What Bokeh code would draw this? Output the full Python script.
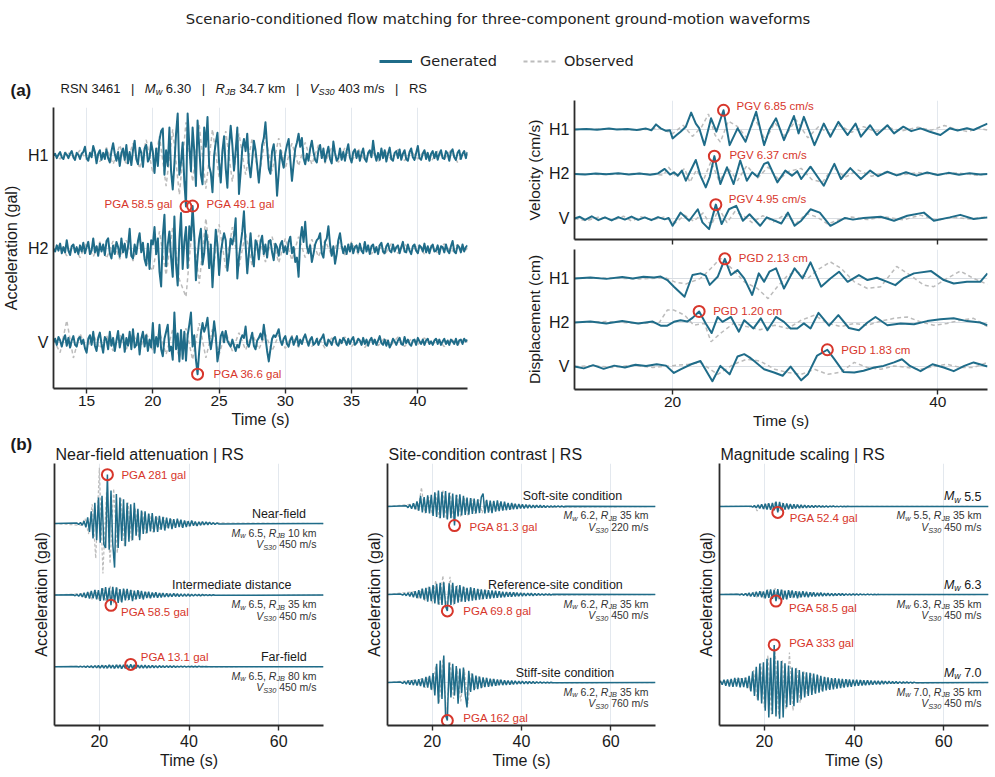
import numpy as np
from bokeh.core.properties import value
from bokeh.embed import file_html
from bokeh.layouts import column, row
from bokeh.models import (ColumnDataSource, CustomLabelingPolicy, FixedTicker, Label, Legend,
                          LegendItem, Range1d)
from bokeh.plotting import figure
from bokeh.resources import INLINE

# ---------------------------------------------------------------- data
# Panel (a): record RSN 3461, acceleration (gal) every 0.125 s from 12.5 s (one row = 1 s)
RECORD = dict(rsn=3461, mw="6.30", rjb="34.7", vs30="403", tag="RS")
ACC_T0, ACC_DT = 12.5, 0.125
ACC_H1_GEN = [0, 2, -3, 1, 4, -2, -4, 3,
              1, -3, 2, 5, -2, -5, 3, 1,
              -4, 2, 4, 10, -3, -6, 3, -2,
              11, 4, -9, 2, 6, -5, 3, -4,
              7, -3, -8, 5, 14, 2, -6, 4,
              -12, 3, 8, -5, 12, -9, 4, -11,
              6, 17, -4, -10, 9, 3, -13, 8,
              12, -7, -3, 15, 4, -20, 8, -12,
              18, 28, 31, -22, 6, -12, 32, -18,
              -39, -10, 25, 48, -22, -8, 15, -30,
              -58.5, 48, 12, -18, 32, 5, -35, 40,
              10, -22, -33, 32, 10, 44, -12, -20,
              -42, 0, 15, 26, -8, -31, 5, 22,
              -15, -37, 10, 34, 12, -17, 5, 32,
              -44, -20, 8, 19, 5, 25, -10, -25,
              -5, 17, 6, -12, -31, -10, 12, 20,
              38, 10, -15, -21, 5, 13, -8, -46,
              -20, 6, -5, -14, 3, 12, 19, -5,
              -29, -10, 8, 15, 25, 10, 20, -3,
              -10, 2, -6, 8, 17, 4, -5, -8,
              6, 12, -3, 8, -7, 2, 10, -4,
              -9, 16, 3, -6, -3, 8, -5, 4,
              -6, 5, 13, -2, -8, 4, 7, -3,
              5, -6, 2, 8, -4, -7, 3, 6,
              -2, 17, 2, -6, 3, -5, 8, -3,
              6, -7, 2, 9, -4, -6, 3, 5,
              -3, 7, -5, 2, 6, -4, -6, 4,
              8, -2, -5, 3, 11, -3, -5, 2,
              6, -4, 3, -6, 2, 5, -3, 4,
              -5, 2, 6, -3, -4, 5, 2, -6,
              4, 7, -2, -5, 3, 6, -4, 2,
              5, -3, 4]
ACC_H2_GEN = [0, -3, 4, -2, 6, -5, 2, -4,
              10, -2, -7, 3, 5, -4, 2, -6,
              4, -3, 7, -5, 2, 8, -6, -2,
              12, -4, 3, -8, 6, -3, 5, -7,
              9, 12, -5, -11, 4, -6, 8, 2,
              -9, 12, -4, 6, -10, 3, 23, -8,
              -11, 5, -6, 9, 18, -4, 7, -12,
              -19, 6, -23, 10, 5, 25, -6, 12,
              -26, -43, 15, 39, -20, 5, 20, -10,
              -32, 37, -18, -42, 10, 41, -23, 8,
              25, -22, 26, 10, 49.1, 15, -36, -10,
              12, 23, -18, -5, 21, 8, -22, 5,
              -44, -10, 22, 5, -30, -5, 8, 18,
              10, -25, -8, 12, 5, 15, 35, -34,
              -10, 5, 20, 43, 5, -28, -5, 18,
              -8, -20, 10, 5, -12, 8, 15, -6,
              5, -10, 9, 10, -4, -13, 6, 2,
              -8, 5, 9, -4, 3, -6, 8, 14,
              -5, 2, -15, -10, -32, 10, 25, 8,
              31, 3, -5, 4, -15, -6, 5, 10,
              12, 18, -5, -10, 8, 12, 26, 5,
              -8, 3, -17, -6, 10, 18, 4, -5,
              3, -6, 5, -3, 6, -5, 2, 4,
              -4, 6, -2, -5, 8, -3, 4, -6,
              3, 5, -4, 2, -6, 4, 7, -3,
              -5, 3, 6, -2, -4, 5, -3, 2,
              4, -5, 2, 8, -3, -4, 5, -2,
              -6, 3, 5, -2, -5, 4, 2, -3,
              6, -4, 3, -5, 2, 5, -3, -2,
              4, -6, 3, 2, -4, 5, -2, -5,
              3, 9, -3, -5, 4, 2, -4, 5,
              -3, 2, 4]
ACC_V_GEN = [0, 4, -3, 6, 2, -5, 3, 8,
             -4, 5, -6, 2, 7, -3, -5, 4,
             6, -2, 3, -7, -12, 4, 8, -3,
             12, -4, -10, 5, 11, -2, -12, 6,
             3, -8, 12, -4, 5, -10, 2, 13,
             -6, 4, 9, -11, 5, -4, 12, -8,
             15, -6, -3, 10, -14, 4, 12, -5,
             8, -10, 3, -6, 22, -12, 6, -5,
             20, -8, -16, 4, 12, 20, -10, -5,
             -20, 34, -8, 10, -22, 14, -19, 12,
             -21, 8, 20, 34, -5, 8, -20, -36.6,
             -10, 10, 22, 12, 18, 28, 5, -8,
             5, 24, 8, -22, -10, 7, 12, 0,
             13, 2, -2, -5, 3, -4, -10, -3,
             -6, 3, 8, 5, 18, -2, -5, 3,
             11, -4, -8, 2, 5, 10, 3, 20,
             5, -10, -22, -8, 4, 8, 6, 10,
             15, 2, -3, 4, 7, -2, -5, 3,
             6, -3, 2, 7, -4, 3, -2, 5,
             9, 2, -4, 3, 6, -3, -1, 4,
             -3, 2, 5, 9, -2, -4, 3, 1,
             -3, 4, 6, -2, -4, 3, -1, 5,
             2, -3, 4, -2, 3, 6, -3, -1,
             4, 2, -3, 5, -2, 3, -4, 2,
             5, -2, 3, -3, 2, 7, -1, -3,
             3, -4, 2, -6, -2, 4, 1, -3,
             2, 5, -2, -3, 6, -1, 3, -2,
             -4, 2, 3, -3, 5, 1, -2, 3,
             -3, 2, 4, -2, 1, -3, 2, 4,
             -2, 3, -3, 1, 4, -2, 2, -3,
             3, 1, -2, 4, -3, 2, 3, -2,
             4, 1, 3]
# observed acceleration (gal) every 0.5 s from 12.5 s
ACC_OBS_T0, ACC_OBS_DT = 12.5, 0.5
ACC_H1_OBS = [2, -4, 5, -3, 6, -5, 8, -7, 9, -10, 12, -11, 14, -15, 18, -20,
              22, -35, 30, -45, 38, -30, 35, -38, 30, -25, 28, -30, 25, -22, 20, -25,
              22, -18, 20, -15, 14, -12, 15, -10, 12, -9, 10, -8, 9, -7, 8, -6,
              7, -8, 6, -5, 7, -6, 5, -4, 6, -7, 5, -4, 6, -8, 5, -3]
ACC_H2_OBS = [-3, 6, -8, 5, -10, 7, -9, 8, -11, 9, -12, 10, -14, 12, -16, -25,
              20, -30, 25, -35, -55, 30, -40, 35, -30, 28, -22, 25, -20, 18, -20, 16,
              -15, 14, -16, 12, -13, 14, -10, 11, -9, 10, -8, 9, -7, 8, -6, 7,
              -6, 5, -7, 6, -5, 6, -4, 5, -6, 4, -5, 6, -4, 5, -3, 4]
ACC_V_OBS = [3, -12, 25, -18, 10, -8, 9, -7, 8, -10, 9, -8, 10, -9, 11, -10,
             12, -14, 15, -18, 16, -20, 22, -18, 15, -14, 12, -10, 11, -9, 10, -8,
             9, -10, 8, -7, 8, -6, 7, -5, 6, -7, 5, -4, 6, -5, 4, -6,
             5, -4, 5, -3, 6, -5, 4, -3, 5, -4, 3, -5, 4, -3, 4, -2]

# velocity (cm/s) as (time s, value) pairs
VEL_H1_GEN = [(12.6, 0.0), (13.5, 0.2), (14.3, -0.1), (15.2, 0.3), (15.8, 0.0), (16.6, 0.2),
              (17.3, -0.2), (18.0, 0.3), (18.4, -0.3), (18.75, 1.8), (19.1, 0.4), (19.5, -0.5),
              (19.8, -0.3), (20.0, -3.2), (20.3, -2.0), (20.6, -0.8), (21.0, 1.0), (21.4, 6.0),
              (21.75, 2.1), (22.0, 0.5), (22.4, -5.6), (22.9, 4.0), (23.3, -0.8), (23.84, 6.85),
              (24.3, -5.6), (24.9, 0.4), (25.5, -4.4), (26.3, 6.3), (26.9, -5.6), (27.3, 0.0),
              (27.8, 4.0), (28.4, -3.8), (29.15, 4.8), (29.5, -1.4), (29.9, 4.5), (30.7, -5.6),
              (31.4, 2.1), (31.9, -2.6), (32.5, 2.7), (33.2, -2.0), (33.8, 2.1), (34.2, -2.6),
              (34.9, 1.5), (35.4, -2.0), (36.2, 1.5), (36.7, -1.4), (37.4, 1.0), (38.0, -0.6),
              (38.7, 0.4), (39.4, -0.8), (40.2, -2.0), (40.9, 0.4), (41.5, -0.4), (42.2, 0.4),
              (42.7, -0.2), (43.2, 0.9), (43.75, 2.1)]
VEL_H2_GEN = [(12.6, 0.0), (13.4, -0.2), (14.2, 0.2), (15.0, -0.1), (15.9, 0.3), (16.7, -0.2),
              (17.5, 0.2), (18.3, -0.3), (18.9, 0.2), (19.4, 1.8), (19.8, -0.2), (20.1, 0.6),
              (20.4, -0.6), (20.7, 1.2), (21.0, -2.4), (21.3, 0.6), (21.75, 5.0), (22.1, -0.6),
              (22.5, -4.8), (22.8, -1.0), (23.15, 6.37), (23.6, -3.6), (24.1, 2.4), (24.6, -3.6),
              (25.1, 4.8), (25.6, -2.4), (26.0, 0.6), (26.4, -1.0), (26.9, 3.6), (27.2, 4.2),
              (27.9, -3.0), (28.5, 1.2), (29.0, -0.6), (29.4, 1.0), (29.7, -1.8), (30.4, 2.6),
              (31.4, -4.2), (32.2, 3.6), (32.7, -1.8), (33.4, 2.1), (34.2, -1.8), (34.9, 1.2),
              (35.5, -0.8), (36.2, 0.8), (36.9, -0.5), (37.6, 0.6), (38.4, -0.6), (39.2, 0.5),
              (40.0, -0.4), (40.8, 0.4), (41.6, -0.3), (42.4, 0.3), (43.2, -0.2), (43.75, 0.0)]
VEL_V_GEN = [(12.6, 0.0), (13.0, 0.6), (13.4, -0.5), (13.9, 0.8), (14.4, -0.6), (14.9, 0.4),
             (15.4, -0.7), (15.9, 0.5), (16.4, -0.4), (16.9, 0.7), (17.4, -0.5), (17.9, 0.4),
             (18.4, -0.6), (18.9, 0.5), (19.4, -0.3), (19.7, 0.2), (20.0, -2.6), (20.6, 2.1),
             (21.25, -0.8), (21.9, 3.3), (22.25, -1.4), (22.75, -3.8), (23.26, 4.95), (23.7, -2.0),
             (24.25, 3.3), (24.8, 4.5), (25.3, -0.8), (25.8, 1.5), (26.6, -2.6), (27.1, 0.4),
             (28.2, -1.8), (28.7, 2.1), (29.2, -2.6), (29.7, -0.8), (30.4, 3.3), (31.1, 2.1),
             (31.9, -2.6), (32.4, -1.4), (33.0, 0.2), (33.6, -0.4), (34.4, 0.2), (35.7, 0.6),
             (36.7, -0.8), (37.7, 1.0), (38.95, 2.1), (39.7, -0.8), (40.9, 0.4), (41.7, 1.3),
             (42.7, -0.2), (43.75, 0.4)]
VEL_H1_OBS = [(12.6, 0.0), (15.0, 0.2), (17.5, -0.2), (19.0, 0.5), (20.0, -1.5), (20.8, 1.5),
              (21.5, -2.5), (22.2, 1.0), (22.7, 5.5), (23.2, -2.0), (23.6, -4.5), (24.2, 3.0),
              (24.9, 1.0), (25.6, -3.0), (26.2, 4.0), (27.0, -4.0), (27.7, 2.5), (28.5, -2.5),
              (29.3, 3.5), (30.2, -3.0), (31.0, 1.0), (31.8, -1.5), (32.6, 1.5), (33.5, -1.0),
              (34.4, 1.0), (35.3, -0.8), (36.3, 0.6), (37.3, -0.5), (38.5, 0.8), (39.5, -0.3),
              (40.5, 1.4), (41.3, 0.2), (42.3, -0.8), (43.0, 0.5), (43.75, -0.2)]
VEL_H2_OBS = [(12.6, 0.0), (15.0, -0.2), (17.5, 0.2), (19.3, -0.4), (19.7, 2.4), (20.3, -1.2),
              (20.9, 2.0), (21.3, -3.0), (21.8, 1.5), (22.3, -2.5), (22.9, 4.5), (23.5, -2.5),
              (24.2, 2.0), (24.9, -2.4), (25.6, 3.0), (26.4, -1.5), (27.2, 2.5), (28.0, -2.0),
              (28.8, 1.0), (29.7, 2.0), (30.5, -2.0), (31.3, -3.0), (32.1, 2.5), (33.0, -1.2),
              (34.0, 1.4), (35.0, -0.8), (36.0, 0.6), (37.2, -0.4), (38.5, 0.5), (40.0, -0.3),
              (41.5, 0.4), (43.0, -0.5), (43.75, 0.2)]
VEL_V_OBS = [(12.6, 0.0), (13.5, -0.8), (14.5, 0.6), (15.5, -0.7), (16.3, 0.8), (16.9, -0.9),
             (17.6, 0.6), (18.5, -0.5), (19.4, 0.6), (20.2, -1.6), (20.9, 1.2), (21.6, -1.0),
             (22.3, 2.0), (22.9, -2.5), (23.5, 3.5), (24.1, -1.5), (24.7, 2.5), (25.4, 0.8),
             (26.0, -1.5), (26.8, 1.0), (27.6, -1.2), (28.5, 1.5), (29.3, -1.8), (30.1, 1.8),
             (30.9, 0.5), (31.7, -2.0), (32.5, -0.5), (33.5, 0.5), (34.7, -0.4), (36.0, 0.6),
             (37.4, -0.5), (38.7, 1.2), (39.9, -0.6), (41.2, 0.4), (42.4, -0.2), (43.75, 0.6)]

# displacement (cm) as (time s, value) pairs
DISP_H1_GEN = [(12.6, 0.0), (13.8, 0.1), (15.0, -0.05), (16.2, 0.15), (17.0, 0.0), (17.8, 0.18),
               (18.6, 0.1), (19.1, 0.2), (19.6, -0.18), (20.1, -0.9), (20.9, -2.0), (21.5, 0.37),
               (22.1, 0.55), (22.5, 0.3), (22.8, -0.7), (23.4, 0.18), (23.94, 2.13), (24.4, 0.37),
               (24.9, 0.9), (25.4, 0.0), (26.0, -1.8), (26.5, 0.55), (26.9, -0.37), (27.3, 0.73),
               (27.8, 1.1), (28.4, -1.1), (29.2, 1.1), (29.8, 0.0), (30.4, 1.75), (31.2, -0.9),
               (31.9, 0.0), (32.55, 0.73), (33.2, -0.37), (34.05, 0.37), (34.7, -0.18), (35.4, 0.07),
               (36.2, -0.37), (36.8, -0.73), (37.4, 0.0), (38.2, 0.55), (39.5, 0.8), (40.45, -0.18),
               (41.2, -0.55), (42.2, -0.37), (43.2, -0.37), (43.75, 0.55)]
DISP_H2_GEN = [(12.6, 0.0), (13.8, 0.1), (15.0, -0.1), (16.2, 0.15), (17.4, -0.1), (18.5, 0.1),
               (19.1, -0.35), (19.6, -0.35), (20.1, 0.07), (20.6, 0.25), (21.1, 0.1), (21.5, 0.5),
               (22.0, 1.2), (22.5, -0.1), (22.94, -1.15), (23.4, 0.6), (23.76, 0.07), (24.4, 0.6),
               (25.0, -1.0), (25.4, 0.25), (26.1, -0.65), (26.65, 0.45), (27.15, -0.85), (27.8, 0.6),
               (28.4, 0.07), (28.9, -0.65), (29.4, -0.65), (29.9, -0.1), (30.4, -0.65), (31.0, 1.05),
               (31.8, -0.35), (32.5, 0.8), (33.3, -0.6), (34.05, -0.85), (34.7, 0.0), (35.3, 0.6),
               (36.2, -0.3), (37.2, -0.1), (38.2, -0.2), (39.2, 0.15), (40.2, 0.35), (41.2, 0.45),
               (42.2, 0.15), (43.2, 0.0), (43.75, -0.3)]
DISP_V_GEN = [(12.6, 0.0), (13.3, -0.2), (14.0, 0.15), (14.8, -0.25), (15.6, 0.1), (16.4, -0.1),
              (17.2, 0.2), (18.0, 0.05), (18.8, 0.25), (19.5, 0.1), (20.1, -0.7), (20.6, -0.3),
              (21.4, 0.25), (22.1, 0.6), (23.0, -1.6), (23.6, 0.07), (24.3, -0.85), (24.9, 1.1),
              (25.4, 1.35), (25.8, 1.0), (26.15, 0.6), (26.9, -0.3), (27.65, -0.65), (28.3, -1.0),
              (28.9, 0.0), (29.7, -1.5), (30.2, -0.85), (30.9, 1.2), (31.67, 1.83), (32.2, 0.8),
              (32.9, -0.6), (33.7, -0.65), (34.4, -0.45), (35.2, -0.1), (35.9, 0.07), (36.7, 0.45),
              (37.3, 0.8), (37.9, 0.07), (38.7, -0.5), (39.6, 0.25), (40.45, -0.1), (41.2, -0.5),
              (42.0, 0.07), (42.7, 0.45), (43.75, 0.0)]
DISP_H1_OBS = [(12.6, 0.0), (15.0, 0.05), (17.5, -0.05), (19.5, 0.05), (20.2, -0.4), (21.0, -0.6),
               (22.1, 0.0), (22.9, 1.1), (23.6, 2.2), (24.6, 0.9), (25.4, -0.37), (26.4, -1.1),
               (27.2, -2.2), (27.9, -0.9), (28.7, 0.37), (29.4, 0.73), (30.2, 0.0), (30.9, 0.9),
               (31.9, 1.8), (32.7, 1.1), (33.7, -0.37), (34.7, -1.1), (35.7, -0.9), (36.9, 1.3),
               (37.9, 0.37), (38.95, -0.73), (39.7, -0.9), (40.7, 0.0), (41.7, 0.8), (42.7, 0.0),
               (43.75, -0.65)]
DISP_H2_OBS = [(12.6, 0.0), (15.0, 0.1), (17.5, -0.1), (19.0, 0.0), (19.6, 1.35), (20.1, 1.35),
               (20.9, 0.8), (21.6, -0.3), (22.4, -0.1), (22.9, -2.1), (23.6, -1.2), (24.6, -0.1),
               (25.6, -0.45), (26.6, -0.8), (27.7, -0.3), (28.7, -0.65), (29.7, 0.25), (30.7, 0.8),
               (31.7, -0.1), (32.7, -0.45), (33.7, -0.1), (34.7, -0.3), (35.7, 0.15), (36.7, 0.45),
               (37.7, 0.6), (38.7, 0.07), (39.7, -0.3), (40.7, -0.1), (41.7, 0.25), (42.7, 0.45),
               (43.75, -0.45)]
DISP_V_OBS = [(12.6, 0.0), (14.0, 0.1), (15.5, -0.1), (17.0, 0.15), (18.5, -0.1), (20.0, 0.1),
              (21.2, 0.25), (22.1, 0.45), (23.4, -0.85), (24.6, 0.25), (25.6, 0.8), (26.6, 0.6),
              (27.7, -0.3), (28.7, -0.65), (29.7, -0.85), (30.7, -0.3), (31.7, -0.85), (32.7, -0.6),
              (33.7, 0.45), (34.7, -0.1), (35.7, -0.3), (36.7, 0.07), (37.7, -0.1), (38.7, -0.3),
              (39.7, 0.0), (40.7, 0.25), (41.7, -0.1), (42.7, -0.1), (43.75, 0.45)]

# Panel (b): generated acceleration (gal) every 0.4 s from a start time,
# observed every 0.8 s from 16 s; records are quiet outside these windows.
B_SPAN = (10.0, 70.0)
B_GEN_DT, B_OBS_T0, B_OBS_DT = 0.4, 16.0, 0.8

NEAR_T0 = 15.0
NEAR_GEN = [3, -5, 6, -10, 14, -22, 35, -48, 70, -85,
            120, -95, 150, -110, 160, -120, -140, 281, -150, 190,
            -120, -253, 170, -140, 150, -100, 140, -130, 120, -105,
            110, -95, 120, -70, 85, -95, 75, -60, 70, -55,
            58, -45, 60, -50, 42, -48, 45, -35, 38, -40,
            34, -28, 30, -32, 25, -25, 28, -20, 22, -24,
            18, -20, 14, -15, 17, -12, 12, -14, 10, -10,
            12, -8, 9, -7, 8, -6, 5, -5, 3, -2]
NEAR_OBS = [-10, 30, -60, 110, -200, 320, -287, 180, -230, 200, -170, 150, -130, 120, -100, 90,
            -80, 70, -60, 55, -50, 45, -40, 35, -30, 28, -25, 22, -20, 18, -15, 12, -10, 8, -6, 4]
# RSN 3461 H1 at the 35 km scenario (shared by two panels)
INTER_T0 = 14.2
INTER_GEN = [2, -4, 5, -7, 9, -11, 14, -16, 18, -20,
             24, -18, 30, -25, 28, -33, 40, -30, 46, -38,
             42, -58.5, 48, -40, 44, -45, 35, -42, 38, -30,
             36, -28, 30, -34, 26, -24, 29, -22, 24, -25,
             20, -17, 19, -18, 15, -14, 17, -15, 12, -13,
             12, -11, 10, -11, 9, -9, 10, -8, 8, -8,
             7, -7, 7, -6, 6, -6, 5, -5, 5, -4,
             4, -4, 4, -3, 3, -3, 2, -2, 2, -1]
INTER_OBS = [8, -14, 20, -25, 30, -35, 45, -50, 55, -48, 45, -40, 35, -32, 28, -25,
             22, -20, 18, -16, 14, -12, 11, -10, 9, -8, 7, -6, 6, -5, 4, -4, 3, -3, 2, -2]
FAR_T0 = 15.0
FAR_GEN = [1, -2, 2, -3, 3, -4, 4, -5, 5, -6,
           6, -7, 7, -8, 8, -9, 8, -9, 10, -9,
           9, -10, 10, -9, 10, -11, 10, -10, 11, -10,
           13.1, -11, 10, -10, 9, -9, 9, -8, 8, -8,
           7, -7, 7, -6, 6, -6, 6, -5, 5, -5,
           5, -4, 4, -4, 4, -4, 3, -3, 3, -3,
           3, -3, 2, -2, 2, -2, 2, -2, 2, -1,
           1, -1, 1, -1]
FAR_OBS = [2, -3, 4, -5, 6, -7, 8, -9, 9, -10, 10, -11, 10, -9, 9, -8,
           8, -7, 6, -6, 5, -5, 4, -4, 3, -3, 3, -2, 2, -2, 2, -1]

SOFT_T0 = 14.2
SOFT_GEN = [3, -5, 8, -10, 14, -12, 22, -18, 45, -25,
            40, -28, 47, -30, 50, -40, 60, -45, 68, -50,
            62, -48, 66, -55, 58, -50, 55, -81.3, 50, -42,
            52, -38, 45, -36, 38, -35, 36, -32, 34, -30,
            30, -28, 40, 55, -30, 28, -26, 25, -28, 24,
            -22, 26, -20, 22, -18, 20, -16, 15, -14, 15,
            -12, 12, -11, 10, -9, 9, -8, 8, -7, 7,
            -6, 6, -6, 5, -5, 5, -4, 4, -4, 3,
            -3, 3, -3, 2, -2, 2, -2, 2, -2, 1]
SOFT_OBS = [10, -20, 81, -30, 40, -35, 55, -50, 70, -55, 60, -60, 50, -45, 40, -38,
            35, -32, 30, -28, 25, -22, 20, -18, 16, -15, 13, -12, 10, -9, 8, -7, 6, -5, 4, -4]
REF_T0 = 13.0
REF_GEN = [2, -3, 4, -5, 7, -8, 10, -12, 14, -15,
           18, -16, 25, -22, 28, -30, 33, -28, 40, -38,
           45, -42, 50, -45, 52, -50, -69.8, 48, -44, 50,
           -40, 36, -35, 40, -30, 34, -32, 28, -28, 31,
           -26, 27, -24, 24, -22, 22, -20, 21, -19, 18,
           -17, 17, -15, 16, -14, 14, -13, 12, -12, 11,
           -10, 10, -9, 9, -8, 8, -7, 7, -7, 6,
           -6, 6, -5, 5, -5, 4, -4, 4, -3, 3,
           -3, 3, -2, 2, -2, 1]
REF_OBS = [12, -18, 24, -28, 34, -38, 60, -48, 80, -55, 75, -45, 40, -35, 32, -28,
           26, -24, 22, -20, 18, -16, 15, -13, 12, -11, 10, -9, 8, -7, 6, -5, 5, -4, 3, -3]
STIFF_T0 = 13.0
STIFF_GEN = [2, -4, 5, -7, 8, -9, 10, -11, 12, -13,
             14, -15, 18, -20, 24, -22, 28, -30, 40, -55,
             80, -90, 94, -70, 115, -140, -162, 85, -64, 80,
             -55, 70, -90, 60, -45, 64, -50, -106, 50, -40,
             38, -32, 30, -28, 25, -24, 22, -20, 20, -18,
             17, -16, 15, -14, 13, -12, 12, -11, 10, -10,
             9, -9, 8, -8, 7, -7, 6, -6, 6, -5,
             5, -5, 4, -4, 4, -4, 3, -3, 3, -3,
             2, -2, 2, -2, 1, -1]
STIFF_OBS = [10, -14, 18, -22, 26, -35, 70, -85, 100, -140, 90, -70, 60, -80, 55, -90,
             40, -30, 26, -22, 20, -17, 15, -13, 12, -10, 9, -8, 7, -6, 5, -5, 4, -3, 3, -2]

M55_T0 = 17.0
M55_GEN = [3, -5, 8, -12, 15, -18, 20, -22, 25, -26,
           28, -30, 32, -35, 44, -52.4, 40, -35, 30, -28,
           26, -24, 22, -20, 19, -18, 16, -15, 14, -13,
           12, -11, 10, -10, 9, -8, 8, -7, 7, -6,
           6, -5, 5, -5, 4, -4, 4, -3, 3, -3,
           3, -2, 2, -2, 2, -1, 1, -1, 1, -1]
M55_OBS = [2, -4, 15, -40, 20, -22, 26, -30, 35, -40, 32, -26, 22, -18, 16, -14,
           12, -10, 9, -8, 7, -6, 5, -4, 4, -3, 3, -2, 2, -2, 1]
M70_T0 = 10.2
M70_GEN = [15, -20, 25, -30, 28, -35, 32, -38, 40, -36,
           42, -44, 38, -40, 44, -50, 60, -80, 100, -120,
           140, -160, 168, -186, 180, -250, 210, -310, 220, -280,
           333, -300, 195, -320, 190, -310, 170, -220, 150, -200,
           133, -210, 125, -180, 110, -150, 95, -133, 90, -120,
           85, -110, 80, -100, 70, -90, 60, -80, 50, -70,
           45, -65, 40, -60, 38, -55, 35, -50, 33, -45,
           30, -40, 28, -38, 26, -32, 24, -30, 22, -27,
           20, -25, 19, -22, 18, -20, 16, -18, 15, -16,
           14, -14, 12, -12, 11, -10, 9, -9, 8, -8,
           7, -7, 6, -6, 5, -5, 4, -4, 3, -3]
M70_OBS = [40, -70, 110, -150, 170, -220, 240, -280, 280, -290, 200, -240, 265, -250, 130, -180,
           100, -110, 80, -90, 60, -70, 45, -55, 38, -45, 32, -38, 26, -30, 22, -25,
           18, -20, 15, -15, 12, -12, 10, -8]

# ---------------------------------------------------------------- style
BLUE = "#1f6c89"
GRAY = "#bcbcbc"
RED = "#d7362b"
INK = "#1a1a1a"
SUB_INK = "#333333"
GRID = "#e3e8ee"
BASE_GRID = "#d9dde2"
SPINE = "#2b2b2b"
SANS = "Liberation Sans"
HEAD_FONT = "DejaVu Sans"

# Arial-compatible advance widths (1/1000 em) used to set rich text runs
ADV = {" ": 278, ",": 278, ".": 278, "/": 278, "|": 260, "-": 333, "(": 333, ")": 333,
       "M": 833, "w": 722, "R": 722, "J": 500, "B": 667, "V": 667, "S": 667, "N": 722,
       "k": 500, "m": 833, "s": 500, "a": 556, "l": 222, "g": 556, "P": 667, "G": 778,
       "A": 667, "D": 722, "c": 500}


def text_width(s, size):
    return sum(ADV.get(c, 556) for c in s) * size / 1000.0


def layout_runs(x, y, runs, size, color, dx=0.0, dy=0.0, anchor="left", weight="normal"):
    """Place runs of (text, italic, subscript) side by side; numbers are gaps in px."""
    items = []
    for r in runs:
        if isinstance(r, (int, float)):
            items.append(("", "normal", size, 0.0, float(r)))
            continue
        txt, ital, sub = r
        s = size * 0.7 if sub else size
        items.append((txt, "italic" if ital else weight, s, 0.3 * size if sub else 0.0,
                      text_width(txt, s)))
    total = sum(it[4] for it in items)
    cur = dx - total if anchor == "right" else dx
    rows = []
    for txt, style, s, shift, w in items:
        body = txt.strip()
        if body:
            lead = text_width(txt[:len(txt) - len(txt.lstrip())], s)
            rows.append(dict(x=x, y=y, text=body, xo=cur + lead, yo=dy + shift,
                             size=f"{s:.2f}px", style=style, color=color))
        cur += w
    return rows


def draw_runs(p, rows, font=SANS):
    cols = ("x", "y", "text", "xo", "yo", "size", "style", "color")
    src = ColumnDataSource({k: [r[k] for r in rows] for k in cols})
    p.text(x="x", y="y", text="text", x_offset="xo", y_offset="yo", text_font_size="size",
           text_font_style="style", text_color="color", text_font=value(font),
           text_align="left", text_baseline="middle", source=src)


def peak_label(p, x, y, text, dx, dy, align="left"):
    """Value label beside a peak marker."""
    p.add_layout(Label(x=x, y=y, text=text, x_offset=dx, y_offset=-dy, text_align=align,
                       text_baseline="middle", text_font=SANS, text_font_size="11.5px",
                       text_color=RED))


def plain(s):
    return [(s, False, False)]


def scenario_lines(mw, rjb, vs30):
    l1 = [("M", True, False), ("w", True, True), (f" {mw}, ", False, False),
          ("R", True, False), ("JB", True, True), (f" {rjb} km", False, False)]
    l2 = [("V", True, False), ("S30", True, True), (f" {vs30} m/s", False, False)]
    return l1, l2


def make_fig(width, height, xr, yr, left, right, top, bottom):
    p = figure(width=width, height=height, x_range=Range1d(*xr), y_range=Range1d(*yr),
               output_backend="svg", toolbar_location=None,
               min_border_left=left, min_border_right=right,
               min_border_top=top, min_border_bottom=bottom)
    p.title.visible = False
    p.outline_line_color = None
    p.background_fill_color = "white"
    p.border_fill_color = "white"
    return p


NO_LABELS = CustomLabelingPolicy(code="for (const i of Array.from(indices)) { indices.unset(i) } return indices")


def style_axes(p, xticks, offsets, names, xlabel, ylabel, tick_size, label_size,
               show_xlabels=True, ylab_standoff=4, ytick_standoff=5):
    xa, ya = p.xaxis[0], p.yaxis[0]
    for ax in (xa, ya):
        ax.axis_line_color = SPINE
        ax.axis_line_width = 1.8
        ax.minor_tick_line_color = None
        ax.major_label_text_font = SANS
        ax.major_label_text_color = INK
        ax.axis_label_text_font = SANS
        ax.axis_label_text_font_style = "normal"
        ax.axis_label_text_color = INK
        ax.axis_label_text_font_size = label_size
    xa.ticker = FixedTicker(ticks=xticks)
    xa.major_tick_line_color = SPINE
    xa.major_tick_line_width = 1.4
    xa.major_tick_out = 5
    xa.major_tick_in = 0
    if show_xlabels:
        xa.major_label_text_font_size = tick_size
        xa.major_label_standoff = 2
        xa.axis_label = xlabel
        xa.axis_label_standoff = 2
    else:
        xa.major_label_text_font_size = "0px"
        xa.major_label_standoff = 0
        xa.major_label_policy = NO_LABELS
    ya.major_tick_line_color = None
    ya.major_tick_out = 0
    ya.major_tick_in = 0
    if names:
        ya.ticker = FixedTicker(ticks=offsets)
        ya.major_label_overrides = {o: n for o, n in zip(offsets, names)}
        ya.major_label_text_font_size = "16px"
        ya.major_label_standoff = ytick_standoff
    else:
        ya.ticker = FixedTicker(ticks=[])
        ya.major_label_standoff = 0
    ya.axis_label = ylabel
    ya.axis_label_standoff = ylab_standoff
    p.xgrid.ticker = FixedTicker(ticks=xticks)
    p.xgrid.grid_line_color = GRID
    p.xgrid.grid_line_width = 1
    p.ygrid.ticker = FixedTicker(ticks=offsets)
    p.ygrid.grid_line_color = BASE_GRID
    p.ygrid.grid_line_width = 1


def peak(t, v):
    k = int(np.argmax(np.abs(v)))
    return t[k], v[k]


# ---------------------------------------------------------------- header
header = make_fig(995, 100, (0, 995), (100, 0), 0, 0, 0, 0)
header.axis.visible = False
header.grid.visible = False
header.text(x=[497.5], y=[18], text=["Scenario-conditioned flow matching for three-component ground-motion waveforms"],
            text_font=value(HEAD_FONT), text_font_size="14.8px", text_color="#222222",
            text_align="center", text_baseline="middle")
gen_key = header.line(x=np.array([np.nan]), y=np.array([np.nan]), line_color=BLUE, line_width=3)
obs_key = header.line(x=np.array([np.nan]), y=np.array([np.nan]), line_color=GRAY, line_width=2,
                      line_dash="4 3")
legend = Legend(items=[LegendItem(label="Generated", renderers=[gen_key]),
                       LegendItem(label="Observed", renderers=[obs_key])],
                orientation="horizontal", location=(379, 31), glyph_width=33, glyph_height=16,
                label_standoff=8, spacing=26, padding=0, margin=0,
                border_line_color=None, background_fill_alpha=0,
                label_text_font=HEAD_FONT, label_text_font_size="14.5px", label_text_color="#222222")
header.add_layout(legend)
sep = [10.5, ("|", False, False), 10.5]
rsn_runs = ([(f"RSN {RECORD['rsn']}", False, False)] + sep +
            [("M", True, False), ("w", True, True), (f" {RECORD['mw']}", False, False)] + sep +
            [("R", True, False), ("JB", True, True), (f" {RECORD['rjb']} km", False, False)] + sep +
            [("V", True, False), ("S30", True, True), (f" {RECORD['vs30']} m/s", False, False)] + sep +
            [(RECORD["tag"], False, False)])
rows = layout_runs(60, 88, rsn_runs, 13, INK)
rows += layout_runs(10, 90, plain("(a)"), 17, INK, weight="bold")
draw_runs(header, rows)

# ---------------------------------------------------------------- (a) acceleration
COMPONENTS = ["H1", "H2", "V"]
ACC_OFFSETS = [0.0, -107.0, -214.0]
acc = make_fig(490, 334, (12.5, 43.75), (-267, 55), 53, 23, 7, 46)
style_axes(acc, [15, 20, 25, 30, 35, 40], ACC_OFFSETS, COMPONENTS, "Time (s)",
           "Acceleration (gal)", "15.5px", "16px", ylab_standoff=5)
acc_marks = ([], [])
acc_shift = [(-13, -3, "right"), (14, -2, "left"), (16, 0, "left")]
for gen, obs, off, (dx, dy, anc) in zip([ACC_H1_GEN, ACC_H2_GEN, ACC_V_GEN],
                                        [ACC_H1_OBS, ACC_H2_OBS, ACC_V_OBS], ACC_OFFSETS, acc_shift):
    g = np.asarray(gen, float)
    o = np.asarray(obs, float)
    tg = ACC_T0 + ACC_DT * np.arange(len(g))
    to = ACC_OBS_T0 + ACC_OBS_DT * np.arange(len(o))
    acc.line(to, off + o, line_color=GRAY, line_width=1.5, line_dash="4 3")
    acc.line(tg, off + g, line_color=BLUE, line_width=2.0, line_join="round")
    tp, vp = peak(tg, g)
    acc_marks[0].append(tp)
    acc_marks[1].append(off + vp)
    peak_label(acc, tp, off + vp, f"PGA {abs(vp):.3g} gal", dx, dy, anc)
acc.scatter(acc_marks[0], acc_marks[1], marker="circle", size=11, fill_color=None,
            line_color=RED, line_width=2)


# ---------------------------------------------------------------- (a) velocity / displacement
def knot_panel(p, gens, obss, offsets, fmt, shifts):
    mx, my = [], []
    for gen, obs, off, (dx, dy) in zip(gens, obss, offsets, shifts):
        tg = np.array([a for a, _ in gen])
        vg = np.array([b for _, b in gen])
        to = np.array([a for a, _ in obs])
        vo = np.array([b for _, b in obs])
        p.line(to, off + vo, line_color=GRAY, line_width=1.5, line_dash="4 3")
        p.line(tg, off + vg, line_color=BLUE, line_width=2, line_join="round")
        tp, vp = peak(tg, vg)
        mx.append(tp)
        my.append(off + vp)
        peak_label(p, tp, off + vp, fmt.format(abs(vp)), dx, dy)
    p.scatter(mx, my, marker="circle", size=11, fill_color=None, line_color=RED, line_width=2)


time_a = Range1d(12.6, 43.75)
VEL_OFFSETS = [0.0, -15.9, -31.8]
vel = make_fig(505, 145, (12.6, 43.75), (-39.3, 10.34), 84, 8, 0, 6)
vel.x_range = time_a
style_axes(vel, [20, 40], VEL_OFFSETS, COMPONENTS, "", "Velocity (cm/s)", "15.5px", "15.5px",
           show_xlabels=False, ylab_standoff=3)
knot_panel(vel, [VEL_H1_GEN, VEL_H2_GEN, VEL_V_GEN], [VEL_H1_OBS, VEL_H2_OBS, VEL_V_OBS],
           VEL_OFFSETS, "PGV {:.2f} cm/s", [(13, -4), (15, -1), (13, -6)])

DISP_OFFSETS = [0.0, -4.8, -9.6]
disp = make_fig(505, 189, (12.6, 43.75), (-12.1, 3.15), 84, 8, 4, 45)
disp.x_range = time_a
style_axes(disp, [20, 40], DISP_OFFSETS, COMPONENTS, "Time (s)", "Displacement (cm)",
           "15.5px", "15.5px", ylab_standoff=3)
knot_panel(disp, [DISP_H1_GEN, DISP_H2_GEN, DISP_V_GEN], [DISP_H1_OBS, DISP_H2_OBS, DISP_V_OBS],
           DISP_OFFSETS, "PGD {:.2f} cm", [(14, -1), (14, 0), (14, 0)])

# ---------------------------------------------------------------- (b) scenario panels
PANELS_B = [
    dict(title="Near-field attenuation | RS", width=335, left=54, right=12,
         offsets=[0.0, -411.0, -822.0], yr=(-1160, 345),
         names=[plain("Near-field"), plain("Intermediate distance"), plain("Far-field")],
         mw=["6.5", "6.5", "6.5"], rjb=["10", "35", "80"], vs30=["450", "450", "450"],
         gen=[(NEAR_T0, NEAR_GEN), (INTER_T0, INTER_GEN), (FAR_T0, FAR_GEN)],
         obs=[NEAR_OBS, INTER_OBS, FAR_OBS], shifts=[(14, 0), (10, 7), (10, -7)]),
    dict(title="Site-condition contrast | RS", width=330, left=52, right=10,
         offsets=[0.0, -375.0, -750.0], yr=(-933, 183),
         names=[plain("Soft-site condition"), plain("Reference-site condition"),
                plain("Stiff-site condition")],
         mw=["6.2", "6.2", "6.2"], rjb=["35", "35", "35"], vs30=["220", "450", "760"],
         gen=[(SOFT_T0, SOFT_GEN), (REF_T0, REF_GEN), (STIFF_T0, STIFF_GEN)],
         obs=[SOFT_OBS, REF_OBS, STIFF_OBS], shifts=[(15, 1), (16, 0), (16, -3)]),
    dict(title="Magnitude scaling | RS", width=330, left=54, right=7,
         offsets=[0.0, -780.0, -1560.0], yr=(-1941, 381),
         names=[[("M", True, False), ("w", True, True), (f" {m}", False, False)]
                for m in ("5.5", "6.3", "7.0")],
         mw=["5.5", "6.3", "7.0"], rjb=["35", "35", "35"], vs30=["450", "450", "450"],
         gen=[(M55_T0, M55_GEN), (INTER_T0, INTER_GEN), (M70_T0, M70_GEN)],
         obs=[M55_OBS, INTER_OBS, M70_OBS], shifts=[(12, 6), (13, 7), (15, -2)]),
]

strip = make_fig(995, 29, (0, 995), (29, 0), 0, 0, 0, 0)
strip.axis.visible = False
strip.grid.visible = False
strip_rows = layout_runs(10, 9.5, plain("(b)"), 17, INK, weight="bold")

b_figs = []
x_cursor = 0
for cfg in PANELS_B:
    p = make_fig(cfg["width"], 314, B_SPAN, cfg["yr"], cfg["left"], cfg["right"], 0, 52)
    style_axes(p, [20, 40, 60], cfg["offsets"], None, "Time (s)", "Acceleration (gal)",
               "16px", "16px", ylab_standoff=5)
    p.xaxis[0].major_label_standoff = 4
    labels, mx, my = [], [], []
    for i, off in enumerate(cfg["offsets"]):
        t0, gen = cfg["gen"][i]
        g = np.asarray(gen, float)
        o = np.asarray(cfg["obs"][i], float)
        tg = t0 + B_GEN_DT * np.arange(len(g))
        to = B_OBS_T0 + B_OBS_DT * np.arange(len(o))
        p.line(np.r_[B_SPAN[0], to, B_SPAN[1]], off + np.r_[0.0, o, 0.0],
               line_color=GRAY, line_width=1.2, line_dash="3 2")
        p.line(np.r_[B_SPAN[0], tg, B_SPAN[1]], off + np.r_[0.0, g, 0.0],
               line_color=BLUE, line_width=1.5)
        tp, vp = peak(tg, g)
        mx.append(tp)
        my.append(off + vp)
        dx, dy = cfg["shifts"][i]
        peak_label(p, tp, off + vp, f"PGA {abs(vp):.3g} gal", dx, dy)
        labels += layout_runs(B_SPAN[1], off, cfg["names"][i], 12.5, INK, dx=-7, dy=-10, anchor="right")
        l1, l2 = scenario_lines(cfg["mw"][i], cfg["rjb"][i], cfg["vs30"][i])
        labels += layout_runs(B_SPAN[1], off, l1, 10.5, SUB_INK, dx=-7, dy=9, anchor="right")
        labels += layout_runs(B_SPAN[1], off, l2, 10.5, SUB_INK, dx=-7, dy=20.5, anchor="right")
    p.scatter(mx, my, marker="circle", size=11, fill_color=None, line_color=RED, line_width=2)
    draw_runs(p, labels)
    strip_rows += layout_runs(x_cursor + cfg["left"] + 1, 20, plain(cfg["title"]), 16, INK)
    x_cursor += cfg["width"]
    b_figs.append(p)
draw_runs(strip, strip_rows)

layout = column(header, row(acc, column(vel, disp)), strip, row(*b_figs))
open("out.html", "w").write(file_html(layout, INLINE))
